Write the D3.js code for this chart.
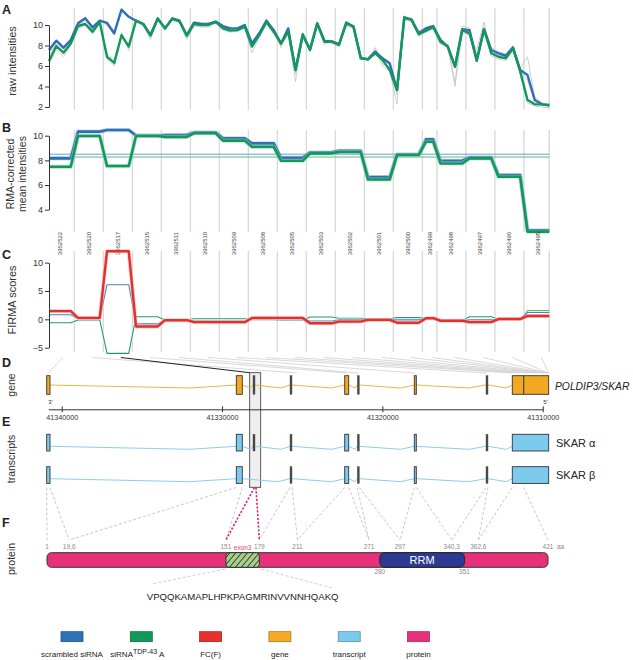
<!DOCTYPE html>
<html><head><meta charset="utf-8">
<script src="https://cdn.jsdelivr.net/npm/d3@7"></script>
<style>body{margin:0;background:#fff}svg{display:block}text{font-family:'Liberation Sans',Arial,sans-serif}</style>
</head><body><svg id="c" width="633" height="660"></svg>
<script>
// ---------------- DATA ----------------
const probesets = ["3962522","3962520","3962517","3962515","3962511","3962510","3962509","3962508","3962505","3962503","3962502","3962501","3962500","3962499","3962498","3962497","3962496","3962495"];
const probesPerSet = [4,4,4,4,4,4,4,4,4,4,4,4,4,2,4,4,4,4];
const rawScrambled = [7.56,8.47,7.79,8.54, 10.16,10.65,9.77,10.42, 10.2,9.2,11.5,10.8, 10.42,10.1,9.0,10.65, 9.67,10.65,10.42,9.02, 10.23,10.1,10.1,10.33, 9.9,9.67,9.67,10.0, 8.2,9.19,10.42,9.5, 8.2,9.67,5.6,9.02, 7.6,10.16,8.45,8.4, 8.1,10.25,9.84,6.8, 6.65,7.4,6.75,6.26, 3.66,10.75,10.55,9.19, 9.67,9.9, 8.54,7.9,5.93,9.6, 9.5,6.5,9.6,7.56, 7.24,7.0,7.82,5.6, 5.12,2.68,2.26,2.2];
const rawTDP43 = [6.49,7.95,7.3,8.2, 9.9,10.1,9.35,10.3, 6.9,6.3,9.0,7.9, 10.42,10.1,9.0,10.6, 9.67,10.6,10.35,8.95, 10.1,10.0,10.0,10.3, 9.67,9.45,9.5,9.84, 7.9,9.02,10.3,9.35, 8.2,9.35,5.6,9.1, 7.56,10.16,8.37,8.37, 8.05,10.16,9.84,6.75, 6.65,7.24,6.6,5.6, 3.66,10.7,10.5,9.1, 9.45,9.8, 8.37,7.9,5.93,9.5, 9.19,6.58,9.57,7.24, 6.9,6.75,7.72,5.45, 2.68,2.26,2.26,2.13];
const rawReplicate1 = [7.3,8.3,7.6,8.4, 10.3,10.7,9.6,10.5, 10.0,9.0,11.6,10.9, 10.5,10.2,8.8,10.7, 9.5,10.7,10.5,8.8, 10.3,10.2,10.1,10.4, 9.8,9.7,9.5,10.1, 7.9,9.3,10.6,9.3, 7.8,9.7,5.2,9.2, 7.8,10.3,8.6,8.2, 7.9,10.3,9.7,6.6, 6.9,7.6,6.0,5.5, 2.3,10.9,10.4,9.4, 9.8,10.0, 8.7,7.7,4.4,9.9, 9.7,7.0,9.8,7.8, 7.4,7.2,7.9,5.8, 6.9,3.0,2.4,2.3];
const rawReplicate2 = [6.1,7.6,6.9,8.0, 9.7,10.0,9.1,10.2, 6.7,6.0,9.3,7.5, 10.3,9.9,8.6,10.5, 9.5,10.5,10.2,8.6, 9.9,9.8,9.8,10.2, 9.5,9.3,9.4,9.7, 7.3,8.8,10.1,9.1, 8.0,9.1,4.5,8.9, 7.4,9.9,8.1,8.5, 8.2,9.9,9.6,6.9, 6.5,7.8,6.2,5.9, 3.2,10.5,10.3,8.9, 9.3,9.6, 8.1,8.1,4.0,9.3, 9.0,7.6,10.3,7.0, 6.7,6.5,7.5,5.2, 2.4,2.1,2.0,1.9];
const rawReplicate3 = [7.0,8.1,7.2,8.3, 10.0,10.4,9.5,10.4, 7.2,6.6,8.8,8.2, 10.4,10.0,9.1,10.6, 9.8,10.6,10.3,9.1, 10.2,10.0,10.2,10.3, 9.7,9.5,9.6,9.9, 8.0,9.1,10.3,9.6, 8.3,9.5,5.9,9.0, 7.7,10.1,8.4,8.5, 8.2,10.1,9.9,6.9, 6.7,7.2,6.8,6.0, 3.9,10.6,10.6,9.0, 9.6,9.9, 8.4,8.0,6.2,9.4, 9.3,6.4,9.4,7.4, 7.0,6.9,7.6,5.5, 4.6,2.5,2.2,2.1];
const rmaScrambled = [8.16,10.33,10.46,10.02,10.05,10.27,9.79,9.38,8.21,8.65,8.78,6.64,8.49,9.7,7.97,8.24,6.8,2.33];
const rmaTDP43 = [7.48,9.98,7.54,9.98,9.9,10.2,9.6,9.1,7.97,8.57,8.68,6.45,8.43,9.51,7.75,8.16,6.67,2.22];
const rmaMeans = [8.5, 8.27];
const firmaScrambled = [0.8,0.1,6.1,-0.8,-0.1,-0.3,-0.3,0.15,0.1,-0.3,-0.1,-0.1,-0.1,0.2,-0.2,-0.1,0.0,1.2];
const firmaTDP43 = [-0.6,-0.1,-6.0,0.45,-0.1,0.1,0.1,-0.05,-0.1,0.4,0.2,0.1,0.3,0.2,-0.2,0.45,0.0,1.5];
const firmaFC = [1.45,0.25,12.0,-1.25,-0.15,-0.5,-0.5,0.25,0.25,-0.7,-0.4,-0.1,-0.6,0.2,-0.25,-0.5,0.05,0.6];
const ticksA = [2,4,6,8,10], ticksB = [4,6,8,10], ticksC = [-5,0,5,10];
// gene model (genomic coordinates, drawn 3' left -> 5' right)
const geneName = "POLDIP3/SKAR";
const genomeTicks = [41340000,41330000,41320000,41310000];
const exonStart = [41340936,41329110,41328069,41325761,41322349,41321563,41318008,41313536,41311896];
const exonEnd   = [41340730,41328736,41327944,41325636,41322100,41321438,41317883,41313411,41309626];
const exonDark  = [false,false,true,true,false,true,false,true,false];
const cdsMark = 41311185;
const highlight = [41328274,41327588];
const probesetTarget = [41340833,41325300,41328274,41322200,41321500,41317950,41313470,41311896,41311400,41310900,41310480,41310170,41309920,41309790,41309670,41309640,41309630,41309626];
const transcripts = ["SKAR α","SKAR β"];
const transcriptHasExon = [[1,1,1,1,1,1,1,1,1],[1,1,0,1,1,1,1,1,1]];
// protein
const exonAA = [[1,19.6],[19.6,151],[151,179],[179,211],[211,271],[271,297],[297,340.3],[340.3,362.6],[362.6,421]];
const aaMarks = [1,19.6,151,179,211,271,297,340.3,362.6,421];
const aaLabels = ["1","19,6","151","179","211","271","297","340,3","362,6","421"];
const rrm = [280,351];
const exon3Peptide = "VPQQKAMAPLHPKPAGMRINVVNNHQAKQ";
const legendLabels = ["scrambled siRNA","siRNA|TDP-43| A","FC(F)","gene","transcript","protein"];
const legendColors = ["#2e72ba","#0f9a5c","#e8302f","#f5ab25","#7ccbef","#e9307b"];

// ---------------- DRAW ----------------
const C = {blue:"#2e6fb7", green:"#11985a", red:"#e3302d", orange:"#f3a823", lblue:"#7ccbef", pink:"#e8307a", dark:"#333"};
const svg = d3.select("#c");
const nP = d3.sum(probesPerSet);
const x = d3.scaleLinear().domain([0,nP-1]).range([49,549.25]);
const starts = []; {let c=0; probesPerSet.forEach(n=>{starts.push(c); c+=n;});}
const centers = starts.map((s,k)=>x(s+(probesPerSet[k]-1)/2));
const bounds = starts.slice(1).map(s=>x(s-0.5)).concat([x(nP-1)]);
const expand = arr => arr.flatMap((v,k)=>d3.range(probesPerSet[k]).map(()=>v));

function grid(y0,y1){
  svg.append("g").selectAll("line").data(bounds).join("line")
    .attr("x1",d=>d).attr("x2",d=>d).attr("y1",y0).attr("y2",y1)
    .attr("stroke","#dadada").attr("stroke-width",1.4);
}
function axis(y,ticks){
  const g = svg.append("g").attr("transform","translate(49,0)")
    .call(d3.axisLeft(y).tickValues(ticks).tickSize(4).tickSizeOuter(0).tickPadding(2).tickFormat(d=>d<0?"\u2212"+(-d):d));
  g.select(".domain").attr("stroke","#333");
  g.selectAll(".tick line").attr("stroke","#333");
  g.selectAll("text").attr("font-size",9).attr("fill","#333").attr("font-family","'Liberation Sans',Arial,sans-serif");
}
function line(vals,y,color,w,halo){
  const l = d3.line().x((d,i)=>x(i)).y(d=>y(d));
  if(halo) svg.append("path").attr("d",l(vals)).attr("fill","none").attr("stroke",halo).attr("stroke-width",w+1.6).attr("stroke-linejoin","round").attr("opacity",0.6);
  svg.append("path").attr("d",l(vals)).attr("fill","none").attr("stroke",color).attr("stroke-width",w).attr("stroke-linejoin","round");
}
function vtitle(lines,xs,yc,fs){
  lines.forEach((t,i)=>svg.append("text").attr("transform",`translate(${xs[i]},${yc}) rotate(-90)`).attr("text-anchor","middle").attr("font-size",fs).attr("fill","#333").text(t));
}
function letter(t,yb){ svg.append("text").attr("x",2).attr("y",yb).attr("font-size",12.5).attr("font-weight","bold").attr("fill","#222").text(t); }

// Panel A
const yA = d3.scaleLinear().domain([2,10]).range([107,25]);
grid(8,110);
[rawReplicate1,rawReplicate2,rawReplicate3].forEach(r=>line(r,yA,"#c4c4c4",0.8));
line(rawScrambled,yA,C.blue,2.4);
line(rawTDP43,yA,C.green,2.4);
axis(yA,ticksA);
letter("A",14); vtitle(["raw intensities"],[15.5],61,11);

// Panel B
const yB = d3.scaleLinear().domain([4,10]).range([209.7,135.7]);
grid(130,232);
rmaMeans.forEach((m,i)=>svg.append("line").attr("x1",x(0)).attr("x2",x(nP-1)).attr("y1",yB(m)).attr("y2",yB(m)).attr("stroke",i?"#5cb88a":"#6f9fd0").attr("stroke-width",1));
line(expand(rmaScrambled),yB,C.blue,2.6,"#a9c8e8");
line(expand(rmaTDP43),yB,C.green,2.6,"#9fd6b8");
axis(yB,ticksB);
letter("B",132); vtitle(["RMA-corrected","mean intensities"],[14,26],174,10.5);

// probe set labels
svg.append("g").selectAll("text").data(probesets).join("text")
  .attr("transform",(d,k)=>`translate(${centers[k]+2},243.5) rotate(-90)`)
  .attr("text-anchor","middle").attr("font-size",6).attr("fill","#444").text(d=>d);

// Panel C
const yC = d3.scaleLinear().domain([-5,10]).range([347.7,262.6]);
grid(251,352);
line(expand(firmaTDP43),yC,"#1f9d66",1.1,"#ffffff");
line(expand(firmaScrambled),yC,"#4a80c2",1.1,"#ffffff");
line(expand(firmaFC),yC,C.red,2.4,"#f6b0ae");
axis(yC,ticksC);
letter("C",259); vtitle(["FIRMA scores"],[16],300,11);

// Panel D gene
const gx = d3.scaleLinear().domain([41340836,41309962]).range([48.3,543.3]);
// highlight box
svg.append("rect").attr("x",gx(highlight[0])).attr("width",gx(highlight[1])-gx(highlight[0]))
  .attr("y",372.7).attr("height",487.3-372.7).attr("fill","#eeeeee").attr("stroke","#333").attr("stroke-width",0.8);
// fan lines
probesetTarget.forEach((g,k)=>{
  if(k===2) return;
  svg.append("line").attr("x1",centers[k]+3).attr("y1",357.5).attr("x2",gx(g)).attr("y2",373)
    .attr("stroke","#cfcfcf").attr("stroke-width",0.8);
});
svg.append("line").attr("x1",centers[2]+3).attr("y1",357.5).attr("x2",gx(probesetTarget[2])).attr("y2",372.7).attr("stroke","#222").attr("stroke-width",1);

function track(yTop,h,yLine,fill,lineColor,has){
  const idx = d3.range(exonStart.length).filter(i=>has[i]);
  for(let j=0;j<idx.length-1;j++){
    const a=gx(exonEnd[idx[j]]), b=gx(exonStart[idx[j+1]]);
    const m=a+(b-a)*0.75;
    svg.append("path").attr("d",`M${a},${yLine}L${m},${yLine+3}L${b},${yLine}`).attr("fill","none").attr("stroke",lineColor).attr("stroke-width",1);
  }
  idx.forEach(i=>{
    const x0=gx(exonStart[i]), x1=gx(exonEnd[i]);
    svg.append("rect").attr("x",x0).attr("width",Math.max(x1-x0,1.6)).attr("y",yTop).attr("height",h)
      .attr("fill",exonDark[i]?"#4a4a4a":fill).attr("stroke",exonDark[i]?"#4a4a4a":"#333").attr("stroke-width",exonDark[i]?0.4:0.9);
  });
}
track(375.7,18.6,385,C.orange,"#f0b443",[1,1,1,1,1,1,1,1,1]);
svg.append("line").attr("x1",gx(cdsMark)).attr("x2",gx(cdsMark)).attr("y1",375.7).attr("y2",394.3).attr("stroke","#444").attr("stroke-width",1.2);
svg.append("text").attr("x",555).attr("y",389.5).attr("font-size",10.3).attr("font-style","italic").attr("fill","#222").text(geneName);
// genome axis
const ga = svg.append("g").attr("transform","translate(0,409.3)")
  .call(d3.axisBottom(gx).tickValues(genomeTicks).tickSize(3).tickSizeOuter(0).tickPadding(3).tickFormat(d3.format("d")));
ga.select(".domain").attr("stroke","#333");
ga.selectAll(".tick line").attr("y1",-3).attr("stroke","#333");
ga.selectAll("text").attr("font-size",7.2).attr("fill","#333").attr("font-family","'Liberation Sans',Arial,sans-serif");
svg.append("text").attr("x",gx.range()[0]).attr("y",404).attr("font-size",6).attr("fill","#333").text("3'");
svg.append("text").attr("x",gx.range()[1]).attr("y",404).attr("font-size",6).attr("fill","#333").text("5'");
letter("D",367); vtitle(["gene"],[15],385,10.5);

// Panel E transcripts
const tTop=[434.3,466.7];
transcripts.forEach((t,k)=>{
  track(tTop[k],16.7,tTop[k]+12,C.lblue,"#8ccff0",transcriptHasExon[k]);
  svg.append("text").attr("x",556).attr("y",tTop[k]+12.5).attr("font-size",11).attr("fill","#222").text(t);
});
letter("E",426); vtitle(["transcripts"],[15],459,10.5);

// Panel F protein
const px = d3.scaleLinear().domain([1,421]).range([47,548]);
// dashed connectors transcript -> protein
exonAA.forEach((aa,i)=>{
  if(i===2) return;
  const xs=[gx(exonStart[i]), i===8?gx(cdsMark):gx(exonEnd[i])];
  xs.forEach((xx,j)=>svg.append("line").attr("x1",xx).attr("y1",487.5).attr("x2",px(aa[j])).attr("y2",540)
    .attr("stroke","#c8c8c8").attr("stroke-width",1).attr("stroke-dasharray","3,2"));
});
[gx(exonStart[2])+1.5,gx(exonEnd[2])+1].forEach((xx,j)=>svg.append("line").attr("x1",xx).attr("y1",487.5).attr("x2",px(exonAA[2][j])).attr("y2",540)
  .attr("stroke","#d82a70").attr("stroke-width",1.6).attr("stroke-dasharray","2.2,1.6"));
// pattern
const defs=svg.append("defs");
const pat=defs.append("pattern").attr("id","hatch").attr("patternUnits","userSpaceOnUse").attr("width",4.5).attr("height",4.5).attr("patternTransform","rotate(40)");
pat.append("rect").attr("width",4.5).attr("height",4.5).attr("fill","#a8cf8c");
pat.append("line").attr("x1",0).attr("y1",0).attr("x2",0).attr("y2",4.5).attr("stroke","#2a2a2a").attr("stroke-width",1.6);
const pY=552.7, pH=14.6;
svg.append("rect").attr("x",px(1)).attr("width",px(421)-px(1)).attr("y",pY).attr("height",pH).attr("rx",4.5)
  .attr("fill",C.pink).attr("stroke","#333").attr("stroke-width",1);
svg.append("rect").attr("x",px(exonAA[2][0])).attr("width",px(exonAA[2][1])-px(exonAA[2][0])).attr("y",pY).attr("height",pH).attr("rx",3)
  .attr("fill","url(#hatch)").attr("stroke","#333").attr("stroke-width",1);
svg.append("rect").attr("x",px(rrm[0])).attr("width",px(rrm[1])-px(rrm[0])).attr("y",pY).attr("height",pH).attr("rx",5)
  .attr("fill","#2c3a92").attr("stroke","#222").attr("stroke-width",1);
svg.append("text").attr("x",px((rrm[0]+rrm[1])/2)).attr("y",564).attr("text-anchor","middle").attr("font-size",11).attr("fill","#fff").text("RRM");
svg.append("g").selectAll("text").data(aaMarks).join("text").attr("x",d=>px(d)).attr("y",549).attr("text-anchor","middle")
  .attr("font-size",6.5).attr("fill","#8a8a8a").text((d,i)=>aaLabels[i]);
svg.append("text").attr("x",px(421)+9).attr("y",549).attr("font-size",6.5).attr("fill","#8a8a8a").text("aa");
rrm.forEach(d=>svg.append("text").attr("x",px(d)).attr("y",574).attr("text-anchor","middle").attr("font-size",6.5).attr("fill","#8a8a8a").text(d));
svg.append("text").attr("x",px((exonAA[2][0]+exonAA[2][1])/2)).attr("y",550).attr("text-anchor","middle").attr("font-size",6.5).attr("fill","#e0457b").text("exon3");
// peptide connectors
svg.append("line").attr("x1",px(exonAA[2][0])-1).attr("y1",569).attr("x2",152).attr("y2",584).attr("stroke","#d0d0d0").attr("stroke-dasharray","3,2");
svg.append("line").attr("x1",px(exonAA[2][1])+2).attr("y1",569).attr("x2",332).attr("y2",588).attr("stroke","#d0d0d0").attr("stroke-dasharray","3,2");
svg.append("text").attr("x",px((exonAA[2][0]+exonAA[2][1])/2)+0).attr("y",600).attr("text-anchor","middle").attr("font-size",9.6).attr("fill","#222").text(exon3Peptide);
letter("F",527); vtitle(["protein"],[15],559,10.5);

// Legend
const lx = d3.scalePoint().domain(legendLabels).range([72,418.5]);
legendLabels.forEach((l,i)=>{
  const cx=lx(l);
  svg.append("rect").attr("x",cx-11).attr("y",631.7).attr("width",22).attr("height",10)
    .attr("fill",legendColors[i]).attr("stroke",d3.color(legendColors[i]).darker(1.2)).attr("stroke-width",0.7);
  const parts=l.split("|");
  if(parts.length===1){
    svg.append("text").attr("x",cx).attr("y",657).attr("text-anchor","middle").attr("font-size",8).attr("fill","#222").text(l);
  } else {
    const t=svg.append("text").attr("x",cx-31).attr("y",657).attr("font-size",8).attr("fill","#222");
    t.append("tspan").text(parts[0]);
    t.append("tspan").attr("dy",-3.5).attr("font-size",7).text(parts[1]);
    t.append("tspan").attr("dy",3.5).text(parts[2]);
  }
});
</script></body></html>
